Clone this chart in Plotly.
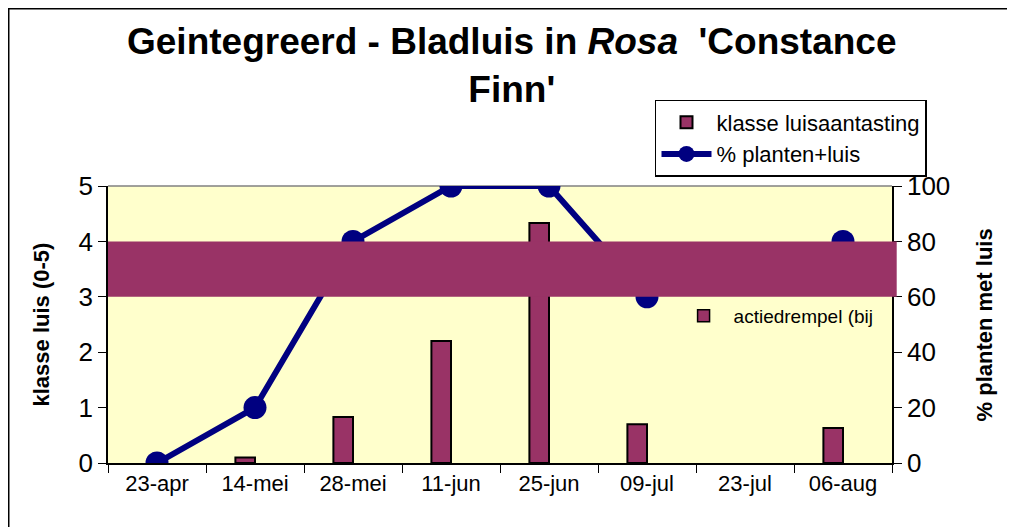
import plotly.graph_objects as go

dates = ['23-apr', '14-mei', '28-mei', '11-jun', '25-jun', '09-jul', '23-jul', '06-aug']
klasse_luis = [None, 0.1, 0.83, 2.2, 4.33, 0.7, None, 0.63]
pct_planten = [0, 20, 80, 100, 100, 60, None, 80]
drempel_laag = 3
drempel_hoog = 4

bar_color = '#993366'
line_color = '#000080'
font = 'Liberation Sans, Arial, sans-serif'

fig = go.Figure()
fig.add_trace(go.Bar(x=dates, y=klasse_luis, name='klasse luisaantasting',
                     marker=dict(color=bar_color, line=dict(color='black', width=2)),
                     yaxis='y'))
fig.add_trace(go.Scatter(x=dates, y=pct_planten, name='% planten+luis', mode='lines+markers',
                         line=dict(color=line_color, width=6),
                         marker=dict(color=line_color, size=23),
                         connectgaps=False, yaxis='y2'))
# legend entry for the threshold band
fig.add_trace(go.Bar(x=dates, y=[None] * len(dates), name='actiedrempel (bij',
                     marker=dict(color=bar_color, line=dict(color='black', width=1.5)),
                     legend='legend2', yaxis='y'))

# threshold band, drawn above the data
fig.add_shape(type='rect', xref='paper', x0=0, x1=1.006, yref='y',
              y0=drempel_laag, y1=drempel_hoog, fillcolor=bar_color,
              line=dict(width=0), layer='above')
# grey top edge of the plot area
fig.add_shape(type='line', xref='paper', yref='paper', x0=0, x1=1, y0=1, y1=1,
              line=dict(color='#808080', width=1.5), layer='below')
# outer chart border
fig.add_shape(type='rect', xref='paper', yref='paper', x0=-0.1266, x1=1.1505,
              y0=-0.4, y1=1.640, line=dict(color='black', width=1.5), layer='below')

fig.update_layout(
    width=1007, height=519,
    margin=dict(l=100, r=123, t=178, b=64, autoexpand=False),
    paper_bgcolor='white',
    plot_bgcolor='#FFFFCC',
    font=dict(family=font, color='black'),
    bargap=0.6,
    showlegend=True,
    legend=dict(x=0.6977, y=1.0325, xanchor='left', yanchor='bottom',
                bgcolor='white', bordercolor='black', borderwidth=1.5,
                font=dict(size=22, family=font), tracegroupgap=0,
                itemwidth=50, traceorder='normal'),
    legend2=dict(x=0.7214, y=0.60, xanchor='left', yanchor='top',
                 bgcolor='rgba(0,0,0,0)', borderwidth=0, itemwidth=50,
                 font=dict(size=19, family=font)),
    xaxis=dict(type='category', tickson='boundaries', ticks='outside', ticklen=8,
               tickcolor='black', showline=True, linecolor='black', linewidth=1.5,
               showgrid=False, tickfont=dict(size=22, family=font), range=[-0.5, 7.5]),
    yaxis=dict(range=[0, 5], dtick=1, ticks='outside', ticklen=8, tickcolor='black',
               showline=True, linecolor='black', linewidth=1.5, showgrid=False,
               zeroline=False, tickfont=dict(size=26, family=font)),
    yaxis2=dict(range=[0, 100], dtick=20, overlaying='y', side='right',
                ticks='outside', ticklen=8, tickcolor='black',
                showline=True, linecolor='black', linewidth=1.5, showgrid=False,
                zeroline=False, tickfont=dict(size=26, family=font)),
    annotations=[
        dict(text="<b>Geintegreerd - Bladluis in <i>Rosa</i>  'Constance<br>Finn'</b>",
             xref='paper', yref='paper', x=0.515, y=1.435,
             xanchor='center', yanchor='middle', showarrow=False,
             font=dict(size=37, family=font)),
        dict(text='<b>klasse luis (0-5)</b>', xref='paper', yref='paper',
             x=-0.0842, y=0.5, xanchor='center', yanchor='middle',
             textangle=-90, showarrow=False, font=dict(size=22, family=font)),
        dict(text='<b>% planten met luis</b>', xref='paper', yref='paper',
             x=1.1186, y=0.5, xanchor='center', yanchor='middle',
             textangle=-90, showarrow=False, font=dict(size=22, family=font)),
    ],
)

fig.write_html('out.html')
